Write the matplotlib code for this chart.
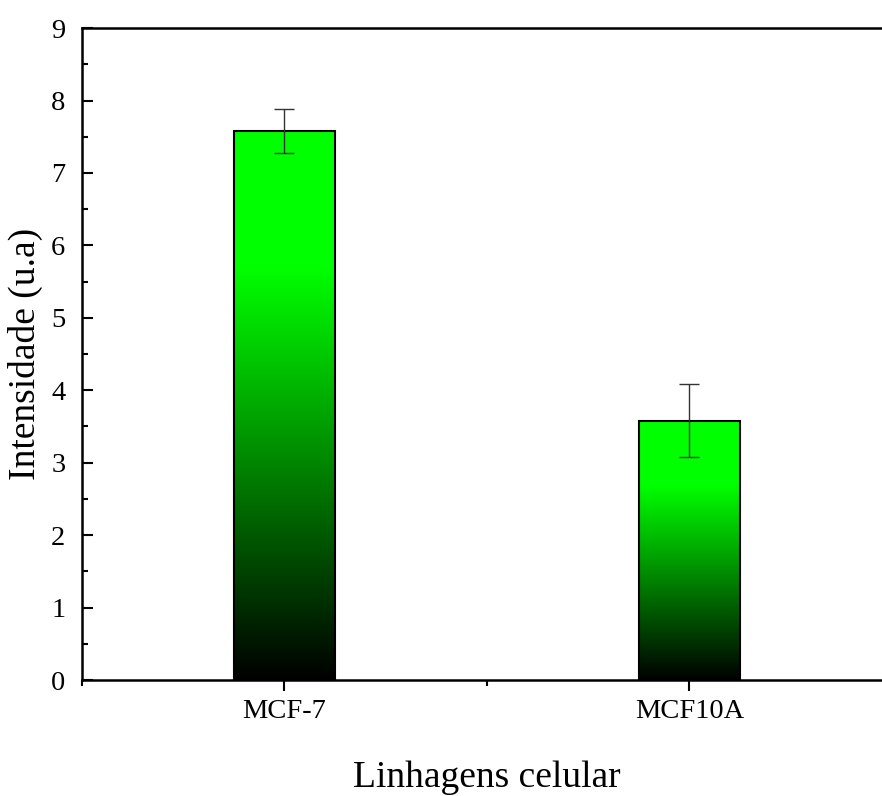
import numpy as np
import matplotlib
matplotlib.use("Agg")
import matplotlib.pyplot as plt
from matplotlib.colors import LinearSegmentedColormap
from matplotlib.ticker import MultipleLocator

# data
categories = ["MCF-7", "MCF10A"]
values = [7.58, 3.58]
errors = [0.30, 0.50]

plt.rcParams['font.family'] = ['Liberation Serif', 'DejaVu Serif']

fig = plt.figure(figsize=(8.82, 7.96), dpi=100)
ax = fig.add_axes([0.093, 0.1457, 0.918, 0.819])

x = np.arange(1, len(categories) + 1)
width = 0.25

# black -> green gradient inside each bar
cmap = LinearSegmentedColormap.from_list(
    "grn", [(0.0, "#000000"), (0.75, "#00ff00"), (1.0, "#00ff00")])
grad = np.linspace(0, 1, 256).reshape(-1, 1)

bars = ax.bar(x, values, width, color="none", edgecolor="black",
              linewidth=1.5, zorder=3)
for b in bars:
    bx, by = b.get_x(), b.get_y()
    bw, bh = b.get_width(), b.get_height()
    ax.imshow(grad, cmap=cmap, origin="lower", aspect="auto",
              extent=[bx, bx + bw, by, by + bh], zorder=2)

ax.errorbar(x, values, yerr=errors, fmt="none", ecolor="#333333",
            elinewidth=1.0, capsize=7, capthick=1.0, zorder=4)

ax.set_xlim(0.5, 2.5)
ax.set_ylim(0, 9)
ax.set_xticks(x)
ax.set_xticklabels(categories)
ax.xaxis.set_minor_locator(MultipleLocator(0.5))
ax.yaxis.set_major_locator(MultipleLocator(1))
ax.yaxis.set_minor_locator(MultipleLocator(0.5))

ax.tick_params(axis="y", which="both", direction="in", width=1.5,
               labelsize=20.5, pad=12)
ax.tick_params(axis="y", which="major", length=8)
ax.tick_params(axis="y", which="minor", length=4.5)
ax.tick_params(axis="x", which="both", direction="out", width=1.5,
               labelsize=20.5, pad=6)
ax.tick_params(axis="x", which="major", length=8)
ax.tick_params(axis="x", which="minor", length=4.5)

for s in ax.spines.values():
    s.set_linewidth(1.8)

ax.set_xlabel("Linhagens celular", fontsize=27, labelpad=26)
ax.set_ylabel("Intensidade (u.a)", fontsize=27, labelpad=6)

fig.savefig("out.png", dpi=100)
